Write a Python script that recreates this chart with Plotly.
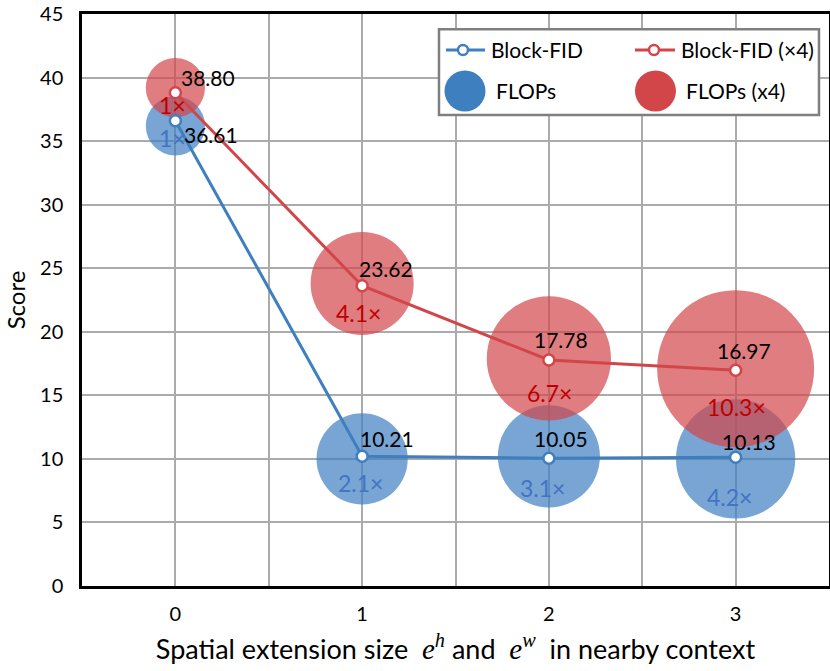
import plotly.graph_objects as go

# data
ext_size = [0, 1, 2, 3]
fid = [36.61, 10.21, 10.05, 10.13]
fid_x4 = [38.80, 23.62, 17.78, 16.97]
flops_mult = ["1×", "2.1×", "3.1×", "4.2×"]
flops_mult_x4 = ["1×", "4.1×", "6.7×", "10.3×"]
# bubble centres and relative bubble areas (as drawn)
bubble_y = [36.2, 10.0, 10.2, 10.0]
bubble_y_x4 = [39.2, 23.8, 17.9, 17.1]
bubble_area = [3.5, 8.3, 10.4, 14.2]
bubble_area_x4 = [3.5, 10.6, 15.4, 24.6]

BLUE = "#3E7FC0"
RED = "#D2464A"
BLUE_TXT = "#4472C4"
RED_TXT = "#C00000"
FONT = "Lato"
sizeref = 2 * max(bubble_area_x4) / 157 ** 2

fig = go.Figure()
fig.add_trace(go.Scatter(x=ext_size, y=bubble_y, mode="markers", showlegend=False,
                         marker=dict(size=bubble_area, sizemode="area", sizeref=sizeref,
                                     color=BLUE, opacity=0.7, line=dict(width=0))))
fig.add_trace(go.Scatter(x=ext_size, y=bubble_y_x4, mode="markers", showlegend=False,
                         marker=dict(size=bubble_area_x4, sizemode="area", sizeref=sizeref,
                                     color=RED, opacity=0.7, line=dict(width=0))))
fig.add_trace(go.Scatter(x=ext_size, y=fid, mode="lines+markers", showlegend=False,
                         line=dict(color=BLUE, width=3),
                         marker=dict(symbol="circle", size=11, color="white",
                                     line=dict(color=BLUE, width=2.5))))
fig.add_trace(go.Scatter(x=ext_size, y=fid_x4, mode="lines+markers", showlegend=False,
                         line=dict(color=RED, width=3),
                         marker=dict(symbol="circle", size=11, color="white",
                                     line=dict(color=RED, width=2.5))))

# value labels (hand-placed in the original)
val_shift = [(36, -14), (25, 18), (12, 20), (13, 16)]
val_shift_x4 = [(33, 15), (24, 17), (12, 21), (8, 20)]
mult_shift = [(-3, -17), (-2, -27), (-6, -30), (-6, -40)]
mult_shift_x4 = [(-3, -12), (-4, -27), (1, -33), (1, -37)]

anns = []
for i, x in enumerate(ext_size):
    anns.append(dict(x=x, y=fid[i], text=f"{fid[i]:.2f}", showarrow=False,
                     xshift=val_shift[i][0], yshift=val_shift[i][1],
                     font=dict(size=21, color="black", family=FONT)))
    anns.append(dict(x=x, y=fid_x4[i], text=f"{fid_x4[i]:.2f}", showarrow=False,
                     xshift=val_shift_x4[i][0], yshift=val_shift_x4[i][1],
                     font=dict(size=21, color="black", family=FONT)))
    anns.append(dict(x=x, y=fid[i], text=flops_mult[i], showarrow=False,
                     xshift=mult_shift[i][0], yshift=mult_shift[i][1],
                     font=dict(size=23, color=BLUE_TXT, family=FONT)))
    anns.append(dict(x=x, y=fid_x4[i], text=flops_mult_x4[i], showarrow=False,
                     xshift=mult_shift_x4[i][0], yshift=mult_shift_x4[i][1],
                     font=dict(size=23, color=RED_TXT, family=FONT)))

# hand-drawn legend box
ROW1, ROW2 = 0.9371, 0.8654
shapes = [dict(type="rect", xref="paper", yref="paper", x0=0.4779, x1=0.9866,
               y0=0.8234, y1=0.9733, line=dict(color="#7F7F7F", width=2.5),
               fillcolor="white", layer="above")]
leg_lines = [(0.4873, 0.5395, 0.5100, BLUE, "Block-FID", 0.5448),
             (0.7403, 0.7938, 0.7657, RED, "Block-FID (×4)", 0.7992)]
for x0, x1, xm, col, name, xt in leg_lines:
    shapes.append(dict(type="line", xref="paper", yref="paper", x0=x0, x1=x1,
                       y0=ROW1, y1=ROW1, line=dict(color=col, width=3), layer="above"))
    shapes.append(dict(type="circle", xref="paper", yref="paper", xsizemode="pixel",
                       ysizemode="pixel", xanchor=xm, yanchor=ROW1, x0=-5, x1=5, y0=-5, y1=5,
                       fillcolor="white", line=dict(color=col, width=2.5), layer="above"))
    anns.append(dict(xref="paper", yref="paper", x=xt, y=ROW1, text=name, showarrow=False,
                     xanchor="left", yanchor="middle",
                     font=dict(size=21, color="black", family=FONT)))
leg_bubbles = [(0.5127, 20.5, BLUE, "FLOPs", 0.5515), (0.7677, 20.5, RED, "FLOPs (x4)", 0.8059)]
for xm, r, col, name, xt in leg_bubbles:
    shapes.append(dict(type="circle", xref="paper", yref="paper", xsizemode="pixel",
                       ysizemode="pixel", xanchor=xm, yanchor=ROW2, x0=-r, x1=r, y0=-r, y1=r,
                       fillcolor=col, line=dict(width=0), layer="above"))
    anns.append(dict(xref="paper", yref="paper", x=xt, y=ROW2, text=name, showarrow=False,
                     xanchor="left", yanchor="middle",
                     font=dict(size=21, color="black", family=FONT)))

math = "font-family:'Liberation Serif';font-size:29px"
xtitle = (f"Spatial extension size  <span style=\"{math}\"><i>e</i><sup><i>h</i></sup></span> and "
          f" <span style=\"{math}\"><i>e</i><sup><i>w</i></sup></span>  in nearby context")

fig.update_layout(
    width=830, height=671,
    margin=dict(l=82, r=1, t=14, b=85),
    plot_bgcolor="white", paper_bgcolor="white",
    font=dict(family=FONT, size=20, color="black"),
    annotations=anns, shapes=shapes,
    xaxis=dict(range=[-0.5, 3.5], tickvals=[-0.5, 0, 0.5, 1, 1.5, 2, 2.5, 3, 3.5],
               ticktext=["", "0", "", "1", "", "2", "", "3", ""],
               showgrid=True, gridcolor="#ABABAB", gridwidth=1.5,
               showline=True, linecolor="black", linewidth=2.5, mirror=True,
               ticks="outside", ticklen=8, tickcolor="rgba(0,0,0,0)",
               zeroline=False, tickfont=dict(size=20), automargin=False,
               title=dict(text=xtitle, font=dict(size=27), standoff=17)),
    yaxis=dict(range=[0, 45], dtick=5, showgrid=True, gridcolor="#ABABAB", gridwidth=1.5,
               showline=True, linecolor="black", linewidth=2.5, mirror=True,
               ticks="outside", ticklen=12, tickcolor="rgba(0,0,0,0)",
               ticklabeloverflow="allow", automargin=False,
               zeroline=False, tickfont=dict(size=20),
               title=dict(text="Score", font=dict(size=24), standoff=8)),
)

# drop the page's default 8px body margin so the figure fills the window
fig.write_html("out.html", config={"displayModeBar": False},
               post_script="document.body.style.margin='0';")
